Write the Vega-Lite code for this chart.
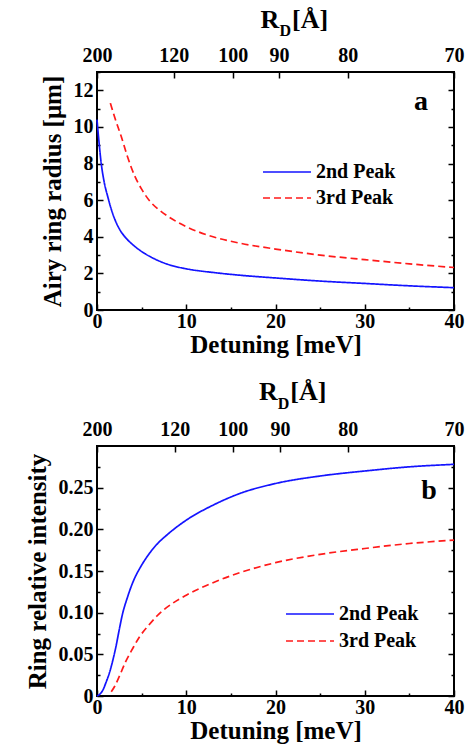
{
  "$schema": "https://vega.github.io/schema/vega-lite/v6.json",
  "background": "white",
  "padding": {"top": 6, "left": 23, "right": 5, "bottom": 2},
  "spacing": 20,
  "datasets": {
    "ra": [
      {"series": "2nd Peak", "det": 0, "val": 10.4},
      {"series": "2nd Peak", "det": 0.2, "val": 9.3},
      {"series": "2nd Peak", "det": 0.45, "val": 8.1},
      {"series": "2nd Peak", "det": 0.8, "val": 7.0},
      {"series": "2nd Peak", "det": 1.2, "val": 6.2},
      {"series": "2nd Peak", "det": 1.6, "val": 5.5},
      {"series": "2nd Peak", "det": 2.0, "val": 4.95},
      {"series": "2nd Peak", "det": 2.6, "val": 4.35},
      {"series": "2nd Peak", "det": 3.4, "val": 3.85},
      {"series": "2nd Peak", "det": 4.3, "val": 3.45},
      {"series": "2nd Peak", "det": 5.3, "val": 3.1},
      {"series": "2nd Peak", "det": 6.5, "val": 2.78},
      {"series": "2nd Peak", "det": 7.9, "val": 2.5},
      {"series": "2nd Peak", "det": 10, "val": 2.25},
      {"series": "2nd Peak", "det": 13, "val": 2.05},
      {"series": "2nd Peak", "det": 16, "val": 1.9},
      {"series": "2nd Peak", "det": 20, "val": 1.75},
      {"series": "2nd Peak", "det": 25, "val": 1.58},
      {"series": "2nd Peak", "det": 30, "val": 1.45},
      {"series": "2nd Peak", "det": 35, "val": 1.32},
      {"series": "2nd Peak", "det": 40, "val": 1.22},
      {"series": "3rd Peak", "det": 1.5, "val": 11.3},
      {"series": "3rd Peak", "det": 2.0, "val": 10.5},
      {"series": "3rd Peak", "det": 2.7, "val": 9.5},
      {"series": "3rd Peak", "det": 3.4, "val": 8.4},
      {"series": "3rd Peak", "det": 4.2, "val": 7.35},
      {"series": "3rd Peak", "det": 5.0, "val": 6.6},
      {"series": "3rd Peak", "det": 6.0, "val": 5.9},
      {"series": "3rd Peak", "det": 7.0, "val": 5.45},
      {"series": "3rd Peak", "det": 8.0, "val": 5.1},
      {"series": "3rd Peak", "det": 10, "val": 4.55},
      {"series": "3rd Peak", "det": 13, "val": 4.0},
      {"series": "3rd Peak", "det": 16, "val": 3.65},
      {"series": "3rd Peak", "det": 20, "val": 3.33},
      {"series": "3rd Peak", "det": 25, "val": 3.0},
      {"series": "3rd Peak", "det": 30, "val": 2.75},
      {"series": "3rd Peak", "det": 35, "val": 2.52},
      {"series": "3rd Peak", "det": 40, "val": 2.32}
    ],
    "ib": [
      {"series": "2nd Peak", "det": 0, "val": 0},
      {"series": "2nd Peak", "det": 0.3, "val": 0.002},
      {"series": "2nd Peak", "det": 0.7, "val": 0.008},
      {"series": "2nd Peak", "det": 1.0, "val": 0.016},
      {"series": "2nd Peak", "det": 1.4, "val": 0.028},
      {"series": "2nd Peak", "det": 1.8, "val": 0.044},
      {"series": "2nd Peak", "det": 2.1, "val": 0.058},
      {"series": "2nd Peak", "det": 2.5, "val": 0.08},
      {"series": "2nd Peak", "det": 2.85, "val": 0.098},
      {"series": "2nd Peak", "det": 3.4, "val": 0.118},
      {"series": "2nd Peak", "det": 4.0, "val": 0.136},
      {"series": "2nd Peak", "det": 5.0, "val": 0.157},
      {"series": "2nd Peak", "det": 5.8, "val": 0.17},
      {"series": "2nd Peak", "det": 6.7, "val": 0.182},
      {"series": "2nd Peak", "det": 7.7, "val": 0.192},
      {"series": "2nd Peak", "det": 10, "val": 0.211},
      {"series": "2nd Peak", "det": 13, "val": 0.229},
      {"series": "2nd Peak", "det": 16, "val": 0.243},
      {"series": "2nd Peak", "det": 20, "val": 0.255},
      {"series": "2nd Peak", "det": 25, "val": 0.264},
      {"series": "2nd Peak", "det": 30, "val": 0.27},
      {"series": "2nd Peak", "det": 35, "val": 0.275},
      {"series": "2nd Peak", "det": 40, "val": 0.278},
      {"series": "3rd Peak", "det": 1.6, "val": 0.005},
      {"series": "3rd Peak", "det": 2.0, "val": 0.012},
      {"series": "3rd Peak", "det": 2.6, "val": 0.026},
      {"series": "3rd Peak", "det": 3.2, "val": 0.041},
      {"series": "3rd Peak", "det": 4.0, "val": 0.057},
      {"series": "3rd Peak", "det": 4.7, "val": 0.07},
      {"series": "3rd Peak", "det": 5.8, "val": 0.085},
      {"series": "3rd Peak", "det": 6.9, "val": 0.098},
      {"series": "3rd Peak", "det": 8.3, "val": 0.11},
      {"series": "3rd Peak", "det": 10, "val": 0.121},
      {"series": "3rd Peak", "det": 13, "val": 0.136},
      {"series": "3rd Peak", "det": 16, "val": 0.148},
      {"series": "3rd Peak", "det": 20, "val": 0.16},
      {"series": "3rd Peak", "det": 25, "val": 0.17},
      {"series": "3rd Peak", "det": 30, "val": 0.177},
      {"series": "3rd Peak", "det": 35, "val": 0.183},
      {"series": "3rd Peak", "det": 40, "val": 0.187}
    ]
  },
  "resolve": {"scale": {"color": "independent", "strokeDash": "independent"}},
  "vconcat": [
    {
      "width": 357,
      "height": 238,
      "data": {"name": "ra"},
      "resolve": {"axis": {"x": "independent", "y": "independent"}},
      "layer": [
        {
          "mark": {"type": "line", "strokeWidth": 1.7, "interpolate": "monotone"},
          "encoding": {
            "x": {"field": "det", "type": "quantitative", "scale": {"domain": [0, 40], "nice": false},
                  "axis": {"orient": "bottom", "values": [0, 10, 20, 30, 40], "title": "Detuning [meV]", "tickSize": -6, "labelPadding": 7, "titlePadding": 1}},
            "y": {"field": "val", "type": "quantitative", "scale": {"domain": [0, 13], "nice": false},
                  "axis": {"orient": "left", "values": [0, 2, 4, 6, 8, 10, 12], "title": "Airy ring radius [μm]", "tickSize": -6, "labelPadding": 10}},
            "color": {"field": "series", "type": "nominal",
                      "scale": {"domain": ["2nd Peak", "3rd Peak"], "range": ["#1414ff", "#ff1a1a"]},
                      "legend": {"orient": "none", "legendX": 165, "legendY": 89, "title": null, "symbolType": "stroke", "symbolSize": 2304, "symbolStrokeWidth": 1.7, "labelOffset": 4, "clipHeight": 22, "rowPadding": 4, "padding": 0}},
            "strokeDash": {"field": "series", "type": "nominal",
                           "scale": {"domain": ["2nd Peak", "3rd Peak"], "range": [[1, 0], [7, 4]]},
                           "legend": {"orient": "none", "legendX": 165, "legendY": 89, "title": null, "symbolType": "stroke", "symbolSize": 2304, "symbolStrokeWidth": 1.7, "labelOffset": 4, "clipHeight": 22, "rowPadding": 4, "padding": 0}}
          }
        },
        {
          "mark": {"type": "point", "opacity": 0},
          "encoding": {
            "x": {"field": "det", "type": "quantitative", "axis": {"orient": "bottom", "values": [5, 15, 25, 35], "labels": false, "title": null, "tickSize": -3}},
            "y": {"field": "val", "type": "quantitative", "axis": {"orient": "left", "values": [1, 3, 5, 7, 9, 11, 13], "labels": false, "title": null, "tickSize": -3}}
          }
        },
        {
          "mark": {"type": "point", "opacity": 0},
          "encoding": {
            "x": {"field": "det", "type": "quantitative", "axis": {"orient": "top", "values": [0, 8.6, 15.2, 20.4, 28.1, 40], "labelExpr": "datum.value < 1 ? '200' : datum.value < 10 ? '120' : datum.value < 17 ? '100' : datum.value < 25 ? '90' : datum.value < 35 ? '80' : '70'", "title": null, "tickSize": -6, "labelPadding": 13}},
            "y": {"field": "val", "type": "quantitative", "axis": {"orient": "right", "values": [0, 2, 4, 6, 8, 10, 12], "labels": false, "title": null, "tickSize": -6}}
          }
        },
        {
          "mark": {"type": "point", "opacity": 0},
          "encoding": {
            "x": {"field": "det", "type": "quantitative", "axis": null},
            "y": {"field": "val", "type": "quantitative", "axis": {"orient": "right", "values": [1, 3, 5, 7, 9, 11, 13], "labels": false, "title": null, "tickSize": -3}}
          }
        },
        {
          "data": {"values": [{}]},
          "mark": {"type": "text", "font": "Liberation Serif", "fontWeight": "bold", "fontSize": 28, "align": "center", "baseline": "alphabetic"},
          "encoding": {"x": {"datum": 36.3, "type": "quantitative", "axis": null}, "y": {"datum": 10.9, "type": "quantitative", "axis": null}, "text": {"value": "a"}}
        },
        {
          "data": {"values": [{}]},
          "mark": {"type": "text", "font": "Liberation Serif", "fontWeight": "bold", "fontSize": 26, "align": "center", "baseline": "alphabetic"},
          "encoding": {"x": {"datum": 19.38, "type": "quantitative", "axis": null}, "y": {"datum": 15.4, "type": "quantitative", "axis": null}, "text": {"value": "R"}}
        },
        {
          "data": {"values": [{}]},
          "mark": {"type": "text", "font": "Liberation Serif", "fontWeight": "bold", "fontSize": 16, "align": "center", "baseline": "alphabetic"},
          "encoding": {"x": {"datum": 21.1, "type": "quantitative", "axis": null}, "y": {"datum": 14.95, "type": "quantitative", "axis": null}, "text": {"value": "D"}}
        },
        {
          "data": {"values": [{}]},
          "mark": {"type": "text", "font": "Liberation Serif", "fontWeight": "bold", "fontSize": 26, "align": "left", "baseline": "alphabetic"},
          "encoding": {"x": {"datum": 21.85, "type": "quantitative", "axis": null}, "y": {"datum": 15.4, "type": "quantitative", "axis": null}, "text": {"value": "[Å]"}}
        }
      ]
    },
    {
      "width": 357,
      "height": 250,
      "data": {"name": "ib"},
      "resolve": {"axis": {"x": "independent", "y": "independent"}},
      "layer": [
        {
          "mark": {"type": "line", "strokeWidth": 1.7, "interpolate": "monotone"},
          "encoding": {
            "x": {"field": "det", "type": "quantitative", "scale": {"domain": [0, 40], "nice": false},
                  "axis": {"orient": "bottom", "values": [0, 10, 20, 30, 40], "title": "Detuning [meV]", "tickSize": -6, "labelPadding": 7, "titlePadding": 1}},
            "y": {"field": "val", "type": "quantitative", "scale": {"domain": [0, 0.3], "nice": false},
                  "axis": {"orient": "left", "values": [0, 0.05, 0.1, 0.15, 0.2, 0.25], "labelExpr": "datum.value == 0 ? '0' : format(datum.value, '.2f')", "title": "Ring relative intensity", "tickSize": -6, "labelPadding": 10}},
            "color": {"field": "series", "type": "nominal",
                      "scale": {"domain": ["2nd Peak", "3rd Peak"], "range": ["#1414ff", "#ff1a1a"]},
                      "legend": {"orient": "none", "legendX": 188, "legendY": 157, "title": null, "symbolType": "stroke", "symbolSize": 2304, "symbolStrokeWidth": 1.7, "labelOffset": 4, "clipHeight": 22, "rowPadding": 5, "padding": 0}},
            "strokeDash": {"field": "series", "type": "nominal",
                           "scale": {"domain": ["2nd Peak", "3rd Peak"], "range": [[1, 0], [7, 4]]},
                           "legend": {"orient": "none", "legendX": 188, "legendY": 157, "title": null, "symbolType": "stroke", "symbolSize": 2304, "symbolStrokeWidth": 1.7, "labelOffset": 4, "clipHeight": 22, "rowPadding": 5, "padding": 0}}
          }
        },
        {
          "mark": {"type": "point", "opacity": 0},
          "encoding": {
            "x": {"field": "det", "type": "quantitative", "axis": {"orient": "bottom", "values": [5, 15, 25, 35], "labels": false, "title": null, "tickSize": -3}},
            "y": {"field": "val", "type": "quantitative", "axis": {"orient": "left", "values": [0.025, 0.075, 0.125, 0.175, 0.225, 0.275], "labels": false, "title": null, "tickSize": -3}}
          }
        },
        {
          "mark": {"type": "point", "opacity": 0},
          "encoding": {
            "x": {"field": "det", "type": "quantitative", "axis": {"orient": "top", "values": [0, 8.7, 15.2, 20.5, 28.1, 40], "labelExpr": "datum.value < 1 ? '200' : datum.value < 10 ? '120' : datum.value < 17 ? '100' : datum.value < 25 ? '90' : datum.value < 35 ? '80' : '70'", "title": null, "tickSize": -6, "labelPadding": 13}},
            "y": {"field": "val", "type": "quantitative", "axis": {"orient": "right", "values": [0, 0.05, 0.1, 0.15, 0.2, 0.25], "labels": false, "title": null, "tickSize": -6}}
          }
        },
        {
          "mark": {"type": "point", "opacity": 0},
          "encoding": {
            "x": {"field": "det", "type": "quantitative", "axis": null},
            "y": {"field": "val", "type": "quantitative", "axis": {"orient": "right", "values": [0.025, 0.075, 0.125, 0.175, 0.225, 0.275], "labels": false, "title": null, "tickSize": -3}}
          }
        },
        {
          "data": {"values": [{}]},
          "mark": {"type": "text", "font": "Liberation Serif", "fontWeight": "bold", "fontSize": 28, "align": "center", "baseline": "alphabetic"},
          "encoding": {"x": {"datum": 37.2, "type": "quantitative", "axis": null}, "y": {"datum": 0.236, "type": "quantitative", "axis": null}, "text": {"value": "b"}}
        },
        {
          "data": {"values": [{}]},
          "mark": {"type": "text", "font": "Liberation Serif", "fontWeight": "bold", "fontSize": 26, "align": "center", "baseline": "alphabetic"},
          "encoding": {"x": {"datum": 19.2, "type": "quantitative", "axis": null}, "y": {"datum": 0.355, "type": "quantitative", "axis": null}, "text": {"value": "R"}}
        },
        {
          "data": {"values": [{}]},
          "mark": {"type": "text", "font": "Liberation Serif", "fontWeight": "bold", "fontSize": 16, "align": "center", "baseline": "alphabetic"},
          "encoding": {"x": {"datum": 20.9, "type": "quantitative", "axis": null}, "y": {"datum": 0.345, "type": "quantitative", "axis": null}, "text": {"value": "D"}}
        },
        {
          "data": {"values": [{}]},
          "mark": {"type": "text", "font": "Liberation Serif", "fontWeight": "bold", "fontSize": 26, "align": "left", "baseline": "alphabetic"},
          "encoding": {"x": {"datum": 21.65, "type": "quantitative", "axis": null}, "y": {"datum": 0.355, "type": "quantitative", "axis": null}, "text": {"value": "[Å]"}}
        }
      ]
    }
  ],
  "config": {
    "view": {"stroke": "black", "strokeWidth": 2},
    "axis": {
      "domain": false, "grid": false,
      "labelFont": "Liberation Serif", "labelFontSize": 20, "labelFontWeight": "bold", "labelColor": "black",
      "titleFont": "Liberation Serif", "titleFontSize": 25, "titleFontWeight": "bold", "titleColor": "black",
      "tickColor": "black", "tickWidth": 1.5, "labelFlush": false, "labelOverlap": false, "titlePadding": 8
    },
    "legend": {"labelFont": "Liberation Serif", "labelFontSize": 20, "labelFontWeight": "bold", "labelColor": "black", "labelLimit": 300}
  }
}
